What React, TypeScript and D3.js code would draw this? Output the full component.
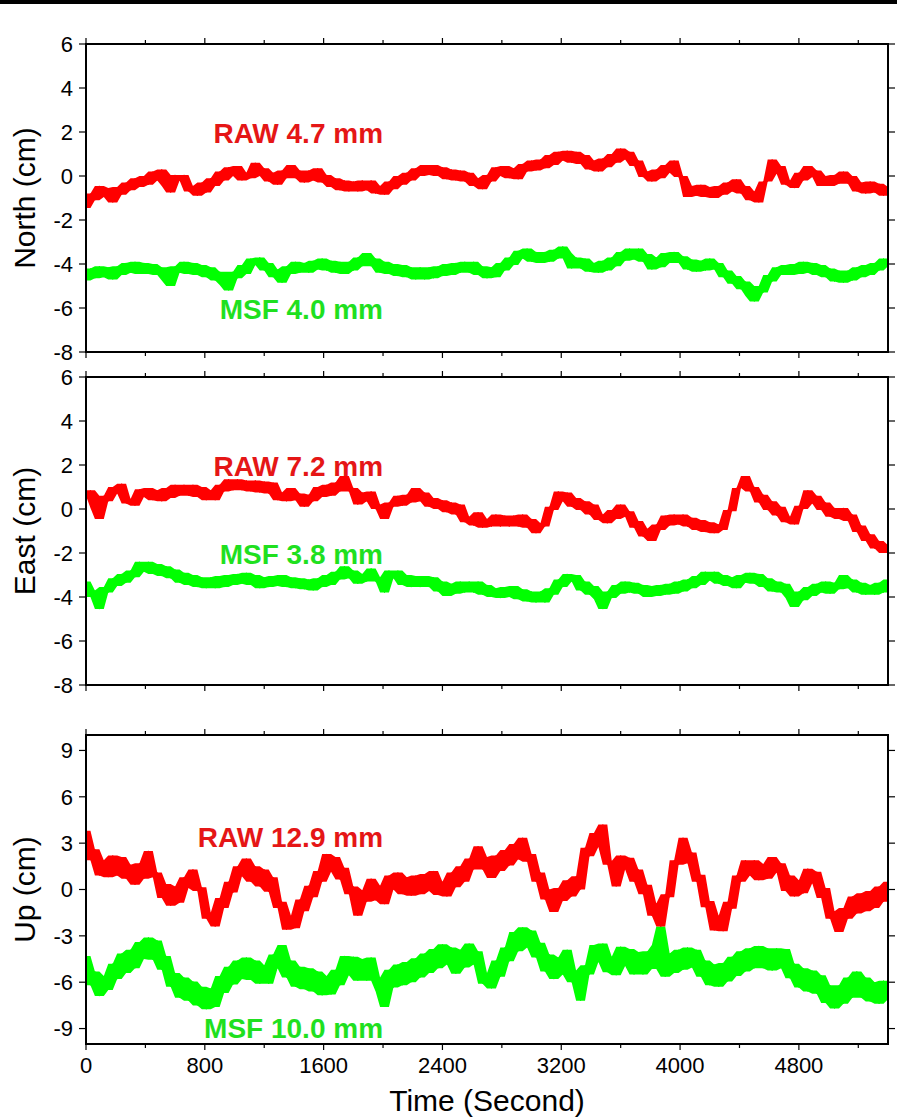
import React from 'react';
import * as d3 from 'd3';

// ---- data (cm), one sample every SAMPLE_STEP seconds ----
const SAMPLE_STEP = 30;
const TIME_DOMAIN = [0, 5400];
const timeTicksMajor = [0, 800, 1600, 2400, 3200, 4000, 4800];
const timeTicksMinor = [400, 1200, 2000, 2800, 3600, 4400, 5200];

const northRaw = [
  -1.45,-0.8,-1.1,-0.45,-0.95,-0.55,-1.2,-0.5,-0.85,-0.3,
  -0.65,-0.1,-0.5,0.0,-0.4,0.2,-0.2,0.3,-0.45,-0.75,
  0.05,-0.2,0.05,-0.7,-0.45,-0.9,-0.3,-0.75,-0.1,-0.45,
  0.2,-0.2,0.4,0.0,0.45,-0.2,0.15,-0.1,0.6,0.0,
  0.35,-0.25,0.15,-0.4,0.25,-0.1,0.5,-0.1,0.25,-0.3,
  0.25,-0.2,0.35,-0.3,0.05,-0.5,-0.1,-0.65,-0.2,-0.7,
  -0.25,-0.7,-0.2,-0.65,-0.2,-0.8,-0.45,-0.85,-0.25,-0.6,
  0.0,-0.4,0.15,-0.2,0.35,0.0,0.5,0.05,0.5,0.0,
  0.4,-0.15,0.3,-0.2,0.25,-0.25,0.15,-0.45,-0.1,-0.6,
  0.05,-0.25,0.4,0.0,0.45,-0.1,0.35,-0.15,0.55,0.2,
  0.7,0.25,0.75,0.35,0.95,0.5,1.1,0.7,1.15,0.6,
  1.1,0.55,0.95,0.3,0.7,0.2,0.8,0.4,1.0,0.6,
  1.25,0.75,1.1,0.45,0.7,-0.05,0.2,-0.25,0.3,-0.1,
  0.5,0.15,0.7,-0.05,0.0,-0.95,-0.45,-0.9,-0.4,-0.95,
  -0.5,-1.0,-0.45,-0.85,-0.3,-0.7,-0.15,-0.8,-0.45,-1.1,
  -0.7,-1.2,-0.25,-0.25,0.75,0.1,0.45,-0.4,-0.2,-0.55,
  0.15,-0.2,0.45,-0.05,0.25,-0.45,0.0,-0.45,0.05,-0.35,
  0.2,-0.35,0.0,-0.7,-0.3,-0.8,-0.25,-0.75,-0.35,-0.9,
  -0.5,
];

const northMsf = [
  -4.75,-4.2,-4.65,-4.1,-4.6,-4.15,-4.7,-4.1,-4.5,-3.95,
  -4.4,-3.9,-4.45,-3.95,-4.45,-4.0,-4.5,-4.15,-4.75,-5.0,
  -4.1,-4.4,-3.9,-4.45,-3.95,-4.5,-4.05,-4.6,-4.15,-4.75,
  -4.35,-4.95,-5.2,-4.35,-4.65,-4.05,-4.45,-3.75,-4.05,-3.7,
  -4.3,-3.95,-4.6,-4.25,-4.85,-4.1,-4.45,-3.9,-4.4,-3.95,
  -4.4,-3.85,-4.25,-3.75,-4.3,-3.85,-4.4,-3.9,-4.45,-3.9,
  -4.3,-3.7,-4.1,-3.5,-4.1,-3.75,-4.4,-3.9,-4.45,-4.0,
  -4.55,-4.05,-4.6,-4.15,-4.7,-4.15,-4.7,-4.15,-4.65,-4.1,
  -4.55,-4.0,-4.5,-3.95,-4.4,-3.9,-4.4,-3.9,-4.5,-4.1,
  -4.65,-4.15,-4.6,-3.95,-4.3,-3.7,-4.05,-3.4,-3.75,-3.3,
  -3.9,-3.45,-3.95,-3.45,-3.9,-3.35,-3.75,-3.2,-3.5,-4.2,
  -3.7,-4.2,-3.75,-4.35,-3.95,-4.4,-3.85,-4.3,-3.7,-4.1,
  -3.45,-3.85,-3.3,-3.8,-3.3,-3.9,-3.55,-4.25,-3.7,-4.15,
  -3.5,-3.95,-3.45,-3.95,-3.65,-4.25,-3.8,-4.35,-3.85,-4.3,
  -3.75,-4.25,-3.95,-4.6,-4.3,-4.9,-4.55,-5.15,-4.8,-5.45,
  -5.7,-5.0,-5.3,-4.5,-4.8,-4.15,-4.5,-4.05,-4.5,-4.0,
  -4.45,-3.9,-4.4,-3.95,-4.5,-4.05,-4.6,-4.2,-4.8,-4.3,
  -4.85,-4.3,-4.75,-4.15,-4.6,-4.05,-4.5,-3.95,-4.3,-3.75,
  -4.1,
];

const eastRaw = [
  0.6,0.85,0.05,-0.45,0.6,0.35,1.0,0.7,1.15,0.25,
  0.45,0.15,0.9,0.55,0.95,0.4,0.85,0.35,0.95,0.5,
  1.1,0.6,1.1,0.6,1.1,0.55,1.0,0.4,0.85,0.4,
  1.1,0.8,1.35,0.85,1.35,0.85,1.3,0.8,1.3,0.75,
  1.25,0.7,1.2,0.4,0.75,0.35,0.95,0.4,0.7,0.1,
  0.65,0.35,1.0,0.55,1.1,0.6,1.2,0.8,1.5,0.8,
  0.95,0.2,0.75,0.35,0.8,0.0,0.2,-0.45,0.3,0.1,
  0.6,0.15,0.65,0.3,0.95,0.35,0.75,0.1,0.5,0.0,
  0.4,-0.15,0.3,-0.25,0.2,-0.6,-0.35,-0.75,-0.15,-0.85,
  -0.45,-0.8,-0.25,-0.8,-0.3,-0.8,-0.3,-0.8,-0.25,-0.85,
  -0.45,-1.1,-0.65,-0.8,0.1,-0.05,0.8,0.35,0.75,0.1,
  0.5,-0.05,0.35,-0.25,0.2,-0.5,-0.25,-0.65,-0.05,-0.45,
  0.2,-0.35,-0.1,-0.85,-0.55,-1.25,-0.9,-1.45,-0.7,-0.95,
  -0.3,-0.75,-0.25,-0.7,-0.25,-0.8,-0.4,-0.95,-0.5,-1.05,
  -0.6,-1.1,-0.7,-0.95,-0.05,-0.1,0.95,0.95,1.5,0.8,
  1.0,0.3,0.65,-0.05,0.35,-0.3,0.1,-0.6,-0.35,-0.7,
  0.15,0.0,0.85,0.25,0.6,-0.05,0.3,-0.35,0.05,-0.45,
  0.05,-0.55,-0.25,-1.05,-0.75,-1.45,-1.15,-1.8,-1.45,-2.0,
  -1.65,
];

const eastMsf = [
  -3.3,-4.0,-3.7,-4.55,-3.55,-3.8,-3.15,-3.5,-2.95,-3.35,
  -2.8,-3.1,-2.4,-2.85,-2.4,-2.95,-2.5,-3.05,-2.6,-3.15,
  -2.75,-3.35,-2.9,-3.45,-3.0,-3.55,-3.1,-3.6,-3.1,-3.6,
  -3.05,-3.55,-3.0,-3.45,-2.95,-3.4,-2.9,-3.45,-3.0,-3.6,
  -3.1,-3.55,-3.05,-3.5,-3.0,-3.55,-3.1,-3.6,-3.15,-3.65,
  -3.2,-3.7,-3.15,-3.55,-3.0,-3.45,-2.85,-3.2,-2.6,-3.15,
  -2.8,-3.4,-2.95,-3.3,-2.7,-3.3,-3.1,-3.8,-2.8,-3.15,
  -2.8,-3.45,-3.0,-3.55,-3.05,-3.55,-3.05,-3.55,-3.1,-3.75,
  -3.3,-3.95,-3.4,-3.85,-3.3,-3.8,-3.3,-3.8,-3.3,-3.9,
  -3.45,-4.0,-3.6,-4.05,-3.55,-4.0,-3.5,-4.1,-3.65,-4.2,
  -3.75,-4.25,-3.75,-4.25,-3.6,-3.9,-3.2,-3.55,-2.95,-3.3,
  -3.0,-3.7,-3.3,-3.9,-3.5,-4.1,-4.55,-3.75,-4.05,-3.45,
  -3.85,-3.3,-3.8,-3.35,-3.85,-3.45,-4.0,-3.5,-3.95,-3.45,
  -3.9,-3.4,-3.85,-3.3,-3.75,-3.2,-3.6,-3.05,-3.45,-2.85,
  -3.25,-2.85,-3.4,-3.0,-3.5,-3.1,-3.6,-3.0,-3.35,-2.9,
  -3.4,-2.95,-3.55,-3.15,-3.75,-3.3,-3.8,-3.4,-4.05,-4.45,
  -3.75,-4.15,-3.55,-3.95,-3.4,-3.8,-3.3,-3.85,-3.35,-3.65,
  -3.0,-3.6,-3.2,-3.8,-3.35,-3.9,-3.45,-3.9,-3.35,-3.8,
  -3.2,
];

const upRaw = [
  3.8,1.9,2.6,0.9,1.9,0.8,2.2,0.9,2.1,0.7,
  1.6,0.3,1.7,0.7,2.5,0.8,1.1,-0.55,0.35,-1.05,
  0.2,-0.85,0.8,0.1,1.3,-0.1,0.15,-1.9,-1.5,-2.4,
  -0.55,-1.2,0.5,-0.2,1.5,0.85,2.0,0.5,1.5,0.2,
  1.3,-0.15,0.8,-1.2,-0.8,-2.6,-1.7,-2.5,-0.65,-1.4,
  0.25,-0.5,1.2,0.5,2.3,1.15,2.1,0.65,1.4,-0.3,
  0.2,-1.7,-0.05,-0.8,0.7,-0.7,0.25,-0.95,0.9,0.0,
  1.1,-0.3,0.8,-0.4,0.9,-0.3,1.0,-0.1,1.2,-0.35,
  0.5,-0.45,1.1,0.15,1.5,0.5,2.0,1.3,2.8,1.3,
  2.1,0.75,2.2,1.2,2.55,1.55,2.95,1.95,3.35,1.8,
  2.3,0.5,1.1,-0.65,0.0,-1.45,0.1,-0.75,0.6,-0.45,
  0.85,0.0,2.7,2.15,3.65,2.75,4.2,1.6,1.85,0.2,
  2.2,1.3,2.05,0.5,1.3,-0.3,0.3,-1.7,-0.9,-2.4,
  -0.3,-0.5,1.9,1.6,3.35,1.7,2.4,0.5,0.95,-1.15,
  -0.75,-2.65,-1.7,-2.7,-0.8,-1.25,0.9,0.5,1.9,0.9,
  1.9,0.6,1.65,0.7,2.1,1.1,1.7,-0.1,0.9,-0.45,
  0.6,-0.25,1.35,0.4,1.15,-0.55,0.1,-1.9,-1.4,-2.75,
  -1.2,-1.9,-0.45,-1.55,-0.25,-1.4,-0.1,-1.2,0.2,-0.8,
  0.5,
];

const upMsf = [
  -4.3,-6.2,-5.3,-6.9,-5.6,-6.5,-4.8,-5.8,-4.15,-5.4,
  -3.9,-5.1,-3.4,-4.5,-3.1,-4.55,-3.3,-5.2,-4.3,-6.3,
  -5.4,-7.0,-5.7,-7.2,-5.95,-7.5,-6.3,-7.75,-6.4,-7.6,
  -5.6,-6.7,-5.0,-6.15,-4.6,-5.8,-4.4,-5.85,-4.6,-6.1,
  -4.9,-6.1,-4.2,-5.1,-3.6,-5.7,-4.6,-6.3,-5.0,-6.45,
  -5.1,-6.6,-5.3,-6.85,-5.6,-6.8,-5.2,-6.2,-4.3,-5.55,
  -4.35,-5.9,-4.5,-5.9,-4.4,-5.7,-6.6,-7.6,-5.2,-6.35,
  -4.85,-6.2,-4.7,-6.0,-4.45,-5.7,-4.15,-5.4,-3.85,-5.1,
  -3.55,-4.85,-3.75,-5.45,-3.9,-5.05,-3.5,-4.85,-4.0,-6.1,
  -5.4,-6.4,-4.6,-5.65,-3.75,-4.65,-2.75,-4.0,-2.45,-3.75,
  -2.65,-4.4,-3.45,-5.3,-4.2,-5.8,-4.4,-5.5,-3.9,-6.0,
  -5.25,-7.2,-4.9,-5.5,-3.6,-4.7,-3.5,-5.35,-4.35,-5.55,
  -3.7,-4.95,-3.85,-5.5,-4.05,-5.5,-4.0,-5.15,-3.6,-2.4,
  -5.65,-4.15,-5.4,-3.9,-5.2,-3.75,-5.05,-3.9,-5.65,-4.6,
  -6.2,-4.85,-6.3,-4.75,-5.95,-4.35,-5.6,-4.0,-5.3,-3.8,
  -5.1,-3.65,-5.1,-3.8,-5.25,-3.8,-5.1,-3.85,-5.75,-4.8,
  -6.35,-5.1,-6.6,-5.25,-6.75,-5.55,-7.35,-6.2,-7.7,-6.2,
  -7.4,-5.7,-7.0,-5.3,-7.0,-5.7,-7.25,-6.0,-7.4,-5.9,
  -7.1,
];

const panelNames = ['North (cm)', 'East (cm)', 'Up (cm)'];
const panelDomains = [[-8, 6], [-8, 6], [-10, 10]];
const panelTicks = [
  [-8, -6, -4, -2, 0, 2, 4, 6],
  [-8, -6, -4, -2, 0, 2, 4, 6],
  [-9, -6, -3, 0, 3, 6, 9],
];
const rawSeries = [northRaw, eastRaw, upRaw];
const msfSeries = [northMsf, eastMsf, upMsf];
const rawLabels = ['RAW 4.7 mm', 'RAW 7.2 mm', 'RAW 12.9 mm'];
const msfLabels = ['MSF 4.0 mm', 'MSF 3.8 mm', 'MSF 10.0 mm'];
// label anchor (time, value) in data units: right-aligned text end
const labelTime = 2000;
const rawLabelValues = [1.5, 1.5, 2.75];
const msfLabelValues = [-6.5, -2.5, -9.6];
const xAxisTitle = 'Time (Second)';

// ---- layout ----
const W = 897;
const H = 1119;
const LEFT = 86;
const RIGHT = 888;
const panelBoxes = [
  { top: 44, bottom: 352 },
  { top: 377, bottom: 685 },
  { top: 735, bottom: 1044 },
];
const FONT = '"Liberation Sans", Arial, Helvetica, sans-serif';
const RED = '#ff0000';
const GREEN = '#00ff00';
const RED_TEXT = '#e51616';
const GREEN_TEXT = '#1fe01f';

type Env = { k: number; lo: number; hi: number };

export default function App() {
  const x = d3.scaleLinear().domain(TIME_DOMAIN).range([LEFT, RIGHT]);

  const renderSeries = (
    values: number[],
    y: d3.ScaleLinear<number, number>,
    color: string,
  ) => {
    const line = d3
      .line<number>()
      .x((_, k) => x(k * SAMPLE_STEP))
      .y((d) => y(d));
    // local min/max over neighbouring samples -> dense noise band
    const env: Env[] = values.map((_, k) => {
      const win = values.slice(Math.max(0, k - 1), k + 2);
      return { k, lo: d3.min(win) as number, hi: d3.max(win) as number };
    });
    const band = d3
      .area<Env>()
      .x((s) => x(s.k * SAMPLE_STEP))
      .y0((s) => y(s.lo))
      .y1((s) => y(s.hi));
    return (
      <g>
        <path d={band(env) || ''} fill={color} stroke="none" />
        <path d={line(values) || ''} fill="none" stroke={color} strokeWidth={1} strokeLinejoin="round" />
      </g>
    );
  };

  return (
    <svg
      width={W}
      height={H}
      viewBox={`0 0 ${W} ${H}`}
      style={{ position: 'absolute', left: 0, top: 0, display: 'block', background: '#fff' }}
      fontFamily={FONT}
    >
      <rect x={0} y={0} width={W} height={H} fill="#fff" />
      <rect x={0} y={0} width={W} height={4} fill="#000" />
      <defs>
        {panelBoxes.map((b, i) => (
          <clipPath id={`clip${i}`} key={i}>
            <rect x={LEFT} y={b.top} width={RIGHT - LEFT} height={b.bottom - b.top} />
          </clipPath>
        ))}
      </defs>
      {panelBoxes.map((b, i) => {
        const y = d3.scaleLinear().domain(panelDomains[i]).range([b.bottom, b.top]);
        const isLast = i === panelBoxes.length - 1;
        return (
          <g key={i}>
            <g clipPath={`url(#clip${i})`}>
              {renderSeries(msfSeries[i], y, GREEN)}
              {renderSeries(rawSeries[i], y, RED)}
            </g>
            {timeTicksMajor.map((t) => (
              <g key={`M${t}`}>
                <line x1={x(t)} x2={x(t)} y1={b.top} y2={b.top - 6} stroke="#000" strokeWidth={1.2} />
                <line x1={x(t)} x2={x(t)} y1={b.bottom} y2={b.bottom + 6} stroke="#000" strokeWidth={1.2} />
              </g>
            ))}
            {timeTicksMinor.map((t) => (
              <g key={`m${t}`}>
                <line x1={x(t)} x2={x(t)} y1={b.top} y2={b.top - 4} stroke="#000" strokeWidth={1.2} />
                <line x1={x(t)} x2={x(t)} y1={b.bottom} y2={b.bottom + 4} stroke="#000" strokeWidth={1.2} />
              </g>
            ))}
            {panelTicks[i].map((v) => (
              <g key={`y${v}`}>
                <line x1={LEFT - 7} x2={LEFT} y1={y(v)} y2={y(v)} stroke="#000" strokeWidth={1.2} />
                <line x1={RIGHT} x2={RIGHT + 7} y1={y(v)} y2={y(v)} stroke="#000" strokeWidth={1.2} />
                <text x={LEFT - 13} y={y(v)} dy="0.36em" textAnchor="end" fontSize={22} fill="#000">
                  {v}
                </text>
              </g>
            ))}
            <rect
              x={LEFT}
              y={b.top}
              width={RIGHT - LEFT}
              height={b.bottom - b.top}
              fill="none"
              stroke="#000"
              strokeWidth={2}
            />
            <text
              transform={`translate(35, ${(b.top + b.bottom) / 2}) rotate(-90)`}
              textAnchor="middle"
              fontSize={30}
              fill="#000"
            >
              {panelNames[i]}
            </text>
            <text x={x(labelTime)} y={y(rawLabelValues[i])} textAnchor="end" fontSize={28} fontWeight="bold" fill={RED_TEXT}>
              {rawLabels[i]}
            </text>
            <text x={x(labelTime)} y={y(msfLabelValues[i])} textAnchor="end" fontSize={28} fontWeight="bold" fill={GREEN_TEXT}>
              {msfLabels[i]}
            </text>
            {isLast &&
              timeTicksMajor.map((t) => (
                <text key={`xl${t}`} x={x(t)} y={b.bottom + 29} textAnchor="middle" fontSize={22} fill="#000">
                  {t}
                </text>
              ))}
            {isLast && (
              <text x={(LEFT + RIGHT) / 2} y={b.bottom + 67} textAnchor="middle" fontSize={30} fill="#000">
                {xAxisTitle}
              </text>
            )}
          </g>
        );
      })}
    </svg>
  );
}
